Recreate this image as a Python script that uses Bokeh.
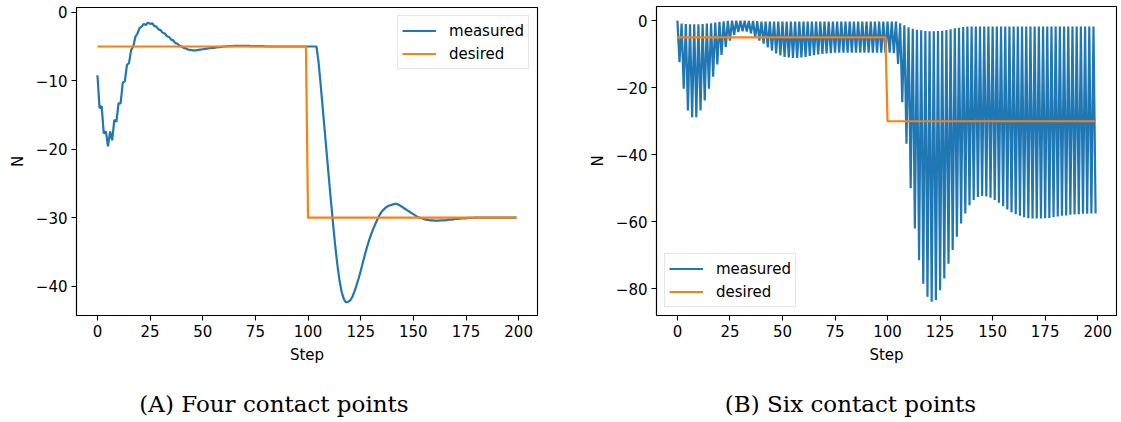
from bokeh.plotting import figure
from bokeh.layouts import row, column
from bokeh.models import Range1d, FixedTicker, Legend, LegendItem
from bokeh.core.properties import value
from bokeh.embed import file_html
from bokeh.resources import INLINE

steps = list(range(200))

# (A) four contact points, measured force per step
left_measured = [
    -9.2, -14.0, -13.7, -17.7, -17.4, -19.6, -17.4, -18.7, -15.7, -16.0,
    -13.3, -13.3, -10.3, -10.1, -7.7, -7.4, -5.5, -5.0, -3.6, -3.1,
    -2.3, -2.1, -1.7, -1.85, -1.5, -1.7, -1.6, -2.0, -2.1, -2.5,
    -2.6, -3.0, -3.1, -3.5, -3.6, -4.0, -4.1, -4.5, -4.6, -4.9,
    -5.0, -5.2, -5.3, -5.45, -5.5, -5.55, -5.55, -5.55, -5.5, -5.45,
    -5.4, -5.35, -5.3, -5.25, -5.2, -5.2, -5.15, -5.1, -5.1, -5.05,
    -5.0, -5.0, -4.95, -4.95, -4.95, -4.9, -4.9, -4.9, -4.9, -4.9,
    -4.9, -4.9, -4.9, -4.95, -4.95, -4.95, -4.95, -4.95, -4.95, -4.95,
    -5.0, -5.0, -5.0, -5.0, -5.0, -5.0, -5.0, -5.0, -5.0, -5.0,
    -5.0, -5.0, -5.0, -5.0, -5.0, -5.0, -5.0, -5.0, -5.0, -5.0,
    -5.0, -5.0, -5.0, -5.0, -5.0, -7.3, -10.6, -14.1, -17.6, -21.1,
    -24.6, -28.0, -31.3, -34.4, -37.1, -39.3, -40.9, -41.9, -42.4, -42.3,
    -42.1, -41.6, -40.8, -39.9, -38.9, -37.8, -36.6, -35.4, -34.3, -33.3,
    -32.4, -31.6, -30.9, -30.2, -29.6, -29.1, -28.8, -28.5, -28.3, -28.2,
    -28.1, -28.0, -28.0, -28.1, -28.3, -28.5, -28.7, -28.9, -29.1, -29.3,
    -29.5, -29.7, -29.9, -30.0, -30.1, -30.2, -30.3, -30.35, -30.4, -30.4,
    -30.45, -30.45, -30.45, -30.4, -30.4, -30.4, -30.35, -30.3, -30.3, -30.25,
    -30.2, -30.2, -30.15, -30.1, -30.1, -30.1, -30.05, -30.05, -30.05, -30.0,
    -30.0, -30.0, -30.0, -30.0, -30.0, -30.0, -30.0, -30.0, -30.0, -30.0,
    -30.0, -30.0, -30.0, -30.0, -30.0, -30.0, -30.0, -30.0, -30.0, -30.0,
]

desired = [-5.0] * 100 + [-30.0] * 100

# (B) six contact points: measured alternates between an upper value (even steps)
# and a lower value (odd steps)
right_top = [
    0.0, -0.9, -1.0, -1.1, -1.1, -1.1, -1.0, -0.9, -0.8, -0.6,
    -0.4, -0.2, -0.1, 0.0, 0.0, 0.0, 0.0, -0.1, -0.1, -0.2,
    -0.3, -0.3, -0.3, -0.3, -0.3, -0.3, -0.3, -0.3, -0.3, -0.3,
    -0.3, -0.3, -0.3, -0.3, -0.3, -0.3, -0.3, -0.3, -0.3, -0.3,
    -0.3, -0.3, -0.3, -0.3, -0.3, -0.3, -0.3, -0.3, -0.3, -0.3,
    -0.3, -0.3, -0.3, -0.8, -1.4, -2.0, -2.4, -2.7, -2.9, -3.1,
    -3.2, -3.2, -3.1, -3.0, -2.8, -2.6, -2.3, -2.1, -1.9, -1.8,
    -1.8, -1.8, -1.8, -1.8, -1.8, -1.8, -1.8, -1.8, -1.8, -1.8,
    -1.8, -1.8, -1.8, -1.8, -1.8, -1.8, -1.8, -1.8, -1.8, -1.8,
    -1.8, -1.8, -1.8, -1.8, -1.8, -1.8, -1.8, -1.8, -1.8, -1.8,
]
right_bottom = [
    -12.4, -20.3, -26.8, -28.8, -28.8, -26.8, -23.8, -20.3, -16.7, -13.1,
    -10.2, -7.9, -6.0, -4.3, -3.4, -3.2, -3.3, -3.8, -5.0, -6.0,
    -6.9, -8.0, -9.0, -9.8, -10.4, -10.8, -11.0, -11.1, -11.1, -11.0,
    -10.8, -10.5, -10.3, -10.1, -9.9, -9.8, -9.7, -9.6, -9.6, -9.6,
    -9.6, -9.6, -9.6, -9.6, -9.6, -9.6, -9.6, -9.6, -9.6, -9.6,
    -9.6, -9.7, -12.9, -24.3, -36.7, -50.0, -62.0, -71.4, -78.4, -82.3,
    -83.8, -83.3, -80.4, -76.9, -72.5, -68.4, -64.4, -60.5, -57.5, -55.0,
    -53.5, -52.6, -52.3, -52.4, -52.8, -53.5, -54.3, -55.3, -56.3, -57.1,
    -57.7, -58.2, -58.6, -58.9, -59.0, -59.0, -59.0, -58.9, -58.8, -58.6,
    -58.4, -58.2, -58.1, -57.9, -57.8, -57.7, -57.6, -57.6, -57.5, -57.5,
]
right_measured = [v for pair in zip(right_top, right_bottom) for v in pair]

x_ticks = [0, 25, 50, 75, 100, 125, 150, 175, 200]
left_y_ticks = [0, -10, -20, -30, -40]
right_y_ticks = [0, -20, -40, -60, -80]
captions = ["(A) Four contact points", "(B) Six contact points"]

BLUE = "#1f77b4"
ORANGE = "#ff7f0e"
FONT = "DejaVu Sans"
PLOT_H = 375
CAP_H = 47


def minus(v):
    return str(v).replace("-", "\u2212")


def make(measured, yticks, yrange, width, bl, br, bt, legend_loc):
    p = figure(width=width, height=PLOT_H, output_backend="svg", toolbar_location=None,
               x_range=Range1d(-9.95, 208.95), y_range=Range1d(*yrange),
               min_border_left=bl, min_border_right=br, min_border_top=bt,
               min_border_bottom=60,
               background_fill_color="white", border_fill_color="white")
    p.xgrid.visible = False
    p.ygrid.visible = False
    p.outline_line_color = "black"
    p.outline_line_width = 1.1
    p.outline_line_alpha = 1.0
    r1 = p.line(steps, measured, line_color=BLUE, line_width=2.2)
    r2 = p.line(steps, desired, line_color=ORANGE, line_width=2.2)
    p.xaxis.ticker = FixedTicker(ticks=x_ticks)
    p.yaxis.ticker = FixedTicker(ticks=yticks)
    p.yaxis.major_label_overrides = {t: minus(t) for t in yticks}
    p.xaxis.axis_label = "Step"
    p.yaxis.axis_label = "N"
    for ax in (p.xaxis[0], p.yaxis[0]):
        ax.axis_line_color = "black"
        ax.axis_line_width = 1.1
        ax.major_tick_line_color = "black"
        ax.major_tick_line_width = 1.1
        ax.major_tick_out = 5
        ax.major_tick_in = 0
        ax.minor_tick_line_color = None
        ax.major_label_text_font = FONT
        ax.major_label_text_font_size = "15px"
        ax.major_label_text_color = "black"
        ax.major_label_standoff = 4
        ax.axis_label_text_font = FONT
        ax.axis_label_text_font_size = "15px"
        ax.axis_label_text_font_style = "normal"
        ax.axis_label_text_color = "black"
        ax.axis_label_standoff = 6
    legend = Legend(items=[LegendItem(label="measured", renderers=[r1]),
                           LegendItem(label="desired", renderers=[r2])],
                    location=legend_loc)
    legend.label_text_font = FONT
    legend.label_text_font_size = "15px"
    legend.label_text_color = "black"
    legend.border_line_color = "#cccccc"
    legend.border_line_width = 1
    legend.background_fill_alpha = 0.85
    legend.glyph_width = 34
    legend.glyph_height = 21
    legend.label_height = 21
    legend.label_standoff = 13
    legend.spacing = 2
    legend.padding = 4
    legend.margin = 8
    p.add_layout(legend)
    return p


def caption_fig(text, width, frame_left, frame_right, cx):
    # the caption strip's frame is aligned with the plot frame above it, so its
    # x range is given in the strip's own pixel coordinates over that frame
    c = figure(width=width, height=CAP_H, output_backend="svg", toolbar_location=None,
               x_range=Range1d(frame_left, frame_right), y_range=Range1d(0, CAP_H),
               x_axis_type=None, y_axis_type=None, min_border=0,
               background_fill_color="white", border_fill_color="white")
    c.outline_line_color = None
    c.xgrid.visible = False
    c.ygrid.visible = False
    c.text(x=[cx], y=[19], text=[text], text_align="center", text_baseline="middle",
           text_font=value("DejaVu Serif"), text_font_size="23px", text_color="black")
    return c


p1 = make(left_measured, left_y_ticks, (-44.3, 0.7), 560, 76, 23, 7, "top_right")
p2 = make(right_measured, right_y_ticks, (-87.9, 4.2), 561, 96, 5, 6, "bottom_left")
c1 = caption_fig(captions[0], 560, 76, 537, 273.5)
c2 = caption_fig(captions[1], 561, 96, 556, 290)

layout = row(column(p1, c1), column(p2, c2))
open("out.html", "w").write(file_html(layout, INLINE))
